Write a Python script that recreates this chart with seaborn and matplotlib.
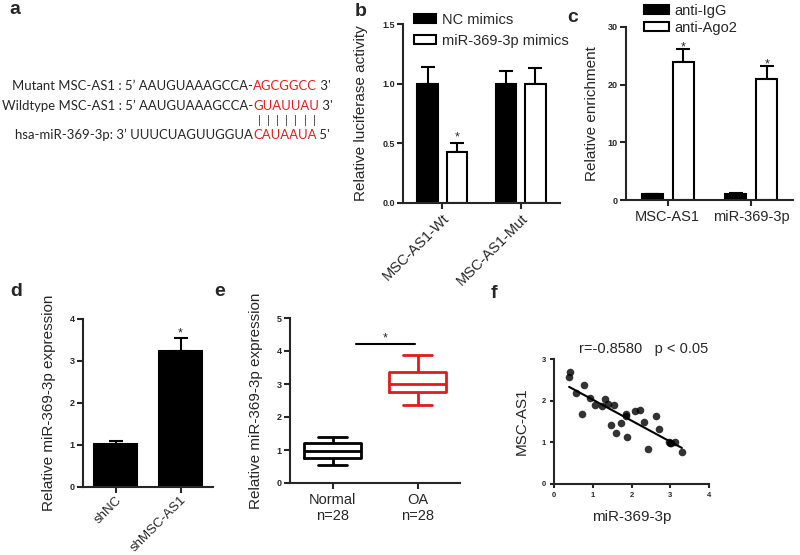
import numpy as np
import pandas as pd
import matplotlib
matplotlib.use("Agg")
import matplotlib.pyplot as plt
import seaborn as sns

# ---------------- data ----------------
b_groups = ["MSC-AS1-Wt", "MSC-AS1-Mut"]
b_hues = ["NC mimics", "miR-369-3p mimics"]
b_nc = [1.0, 1.0]
b_nc_err = [0.14, 0.11]
b_mir = [0.43, 1.0]
b_mir_err = [0.07, 0.13]

c_groups = ["MSC-AS1", "miR-369-3p"]
c_hues = ["anti-IgG", "anti-Ago2"]
c_igg = [1.0, 1.1]
c_igg_err = [0.08, 0.1]
c_ago = [24.0, 21.0]
c_ago_err = [2.2, 2.3]

d_groups = ["shNC", "shMSC-AS1"]
d_vals = [1.02, 3.25]
d_err = [0.08, 0.30]

e_groups = ["Normal\nn=28", "OA\nn=28"]
e_normal = [0.55, 0.75, 0.97, 1.20, 1.40]   # min, Q1, median, Q3, max
e_oa = [2.35, 2.75, 3.00, 3.37, 3.87]

f_mir = [0.39, 0.42, 0.58, 0.71, 0.78, 0.92, 1.05, 1.24, 1.31, 1.39, 1.46, 1.55,
         1.61, 1.74, 1.86, 1.87, 1.89, 2.10, 2.22, 2.33, 2.43, 2.64, 2.70, 2.96,
         3.00, 3.03, 3.11, 3.30]
f_msc = [2.57, 2.69, 2.18, 1.67, 2.37, 2.06, 1.90, 1.88, 2.04, 1.92, 1.42, 1.90,
         1.22, 1.46, 1.68, 1.63, 1.13, 1.75, 1.78, 1.50, 0.84, 1.63, 1.33, 1.00,
         0.99, 0.99, 1.01, 0.76]

a_rows = ["Mutant MSC-AS1 : 5\u2019 AAUGUAAAGCCA-",
          "Wildtype MSC-AS1 : 5\u2019 AAUGUAAAGCCA-",
          "hsa-miR-369-3p: 3\u2019 UUUCUAGUUGGUA"]
a_red = ["AGCGGCC", "GUAUUAU", "CAUAAUA"]
a_end = [" 3'", " 3'", " 5'"]

# ---------------- style ----------------
sns.set_theme(style="ticks")
plt.rcParams["font.family"] = ["Liberation Sans", "DejaVu Sans"]
plt.rcParams["axes.linewidth"] = 1.5
plt.rcParams["xtick.major.width"] = 1.5
plt.rcParams["ytick.major.width"] = 1.5
plt.rcParams["xtick.major.size"] = 4
plt.rcParams["ytick.major.size"] = 4
plt.rcParams["xtick.direction"] = "out"
plt.rcParams["ytick.direction"] = "out"

W, H = 800, 555
fig = plt.figure(figsize=(8, 5.55), dpi=100)
fig.patch.set_facecolor("white")
renderer = fig.canvas.get_renderer()


def add_ax(l, t, r, b):
    return fig.add_axes([l / W, 1 - b / H, (r - l) / W, (b - t) / H])


def fxy(x, y):
    return x / W, 1 - y / H


LAB = 11
TICKNUM = 6.5
CAT = 10.5


def style_ax(ax, ylabel, pad=7):
    sns.despine(ax=ax)
    ax.set_ylabel(ylabel, fontsize=LAB, labelpad=pad)
    ax.set_xlabel("")
    for t in ax.get_yticklabels():
        t.set_fontsize(TICKNUM)
        t.set_fontweight("bold")
    ax.tick_params(axis="y", pad=2, length=4)
    ax.tick_params(axis="x", length=4)


def add_errbars(ax, container, errs):
    xs = [p.get_x() + p.get_width() / 2 for p in container]
    ys = [p.get_height() for p in container]
    ax.errorbar(xs, ys, yerr=[np.zeros(len(errs)), errs], fmt="none",
                ecolor="black", elinewidth=1.5, capsize=5, capthick=1.5, zorder=1)
    return xs, ys


def star(ax, x, y):
    ax.text(x, y, "*", ha="center", va="baseline", fontsize=9)


# ---------------- panel a ----------------
afam = ["Lato", "DejaVu Sans"]
seq_x = 253


def text_w(s, size):
    t = fig.text(0, 0, s, fontsize=size, family=afam)
    w = t.get_window_extent(renderer).width
    t.remove()
    return w


fa = 10 * 251.0 / text_w(a_rows[1], 10)
row_y = [86, 106, 135]
for y, left, red, right in zip(row_y, a_rows, a_red, a_end):
    fig.text(*fxy(seq_x, y), left, ha="right", va="center", fontsize=fa, family=afam)
    tr = fig.text(*fxy(seq_x, y), red, ha="left", va="center", fontsize=fa, family=afam,
                  color="#e0201f")
    wr = tr.get_window_extent(renderer).width
    fig.text(*fxy(seq_x + wr, y), right, ha="left", va="center", fontsize=fa, family=afam)
for i in range(7):
    fig.text(*fxy(seq_x + 2 + (i + 0.5) * wr / 7, 120.5), "|", ha="center", va="center",
             fontsize=fa * 0.8, family=afam)

# ---------------- panel b ----------------
axb = add_ax(403, 24, 560, 203)
dfb = pd.DataFrame({"group": b_groups * 2,
                    "treat": [b_hues[0]] * 2 + [b_hues[1]] * 2,
                    "value": b_nc + b_mir})
sns.barplot(data=dfb, x="group", y="value", hue="treat", hue_order=b_hues,
            palette=["black", "white"], edgecolor="black", linewidth=1.5,
            width=0.75, gap=0.29, errorbar=None, ax=axb, zorder=2)
add_errbars(axb, axb.containers[0], b_nc_err)
xs, ys = add_errbars(axb, axb.containers[1], b_mir_err)
star(axb, xs[0], 0.525)
axb.set_ylim(0, 1.5)
axb.set_xlim(-0.5, 1.5)
axb.set_yticks([0, 0.5, 1.0, 1.5])
axb.set_yticklabels(["0.0", "0.5", "1.0", "1.5"])
style_ax(axb, "Relative luciferase activity", pad=10)
axb.set_xticks([0, 1])
axb.set_xticklabels(b_groups, rotation=45, ha="right", va="top",
                    rotation_mode="anchor", fontsize=CAT)
axb.tick_params(axis="x", pad=2)
axb.legend(loc="upper left", bbox_to_anchor=fxy(414, 13), bbox_transform=fig.transFigure,
           frameon=False, fontsize=10.5, handlelength=1.5, handleheight=0.6,
           labelspacing=0.45, borderpad=0, borderaxespad=0, handletextpad=0.4)

# ---------------- panel c ----------------
axc = add_ax(626, 27, 793, 200)
dfc = pd.DataFrame({"group": c_groups * 2,
                    "ab": [c_hues[0]] * 2 + [c_hues[1]] * 2,
                    "value": c_igg + c_ago})
sns.barplot(data=dfc, x="group", y="value", hue="ab", hue_order=c_hues,
            palette=["black", "white"], edgecolor="black", linewidth=1.5,
            width=0.74, gap=0.33, errorbar=None, ax=axc, zorder=2)
add_errbars(axc, axc.containers[0], c_igg_err)
xs, ys = add_errbars(axc, axc.containers[1], c_ago_err)
star(axc, xs[0], 25.9)
star(axc, xs[1], 23.0)
axc.set_ylim(0, 30)
axc.set_xlim(-0.5, 1.5)
axc.set_yticks([0, 10, 20, 30])
style_ax(axc, "Relative enrichment", pad=6)
axc.set_xticks([0, 1])
axc.set_xticklabels(c_groups, fontsize=CAT)
axc.legend(loc="upper left", bbox_to_anchor=fxy(644, 4), bbox_transform=fig.transFigure,
           frameon=False, fontsize=10.5, handlelength=1.7, handleheight=0.6,
           labelspacing=0.2, borderpad=0, borderaxespad=0, handletextpad=0.4)

# ---------------- panel d ----------------
axd = add_ax(83, 319, 213, 487)
dfd = pd.DataFrame({"group": d_groups, "value": d_vals})
sns.barplot(data=dfd, x="group", y="value", color="black", edgecolor="black",
            linewidth=1.5, width=0.66, errorbar=None, ax=axd, zorder=2)
xs, ys = add_errbars(axd, axd.containers[0], d_err)
star(axd, xs[1], 3.59)
axd.set_ylim(0, 4)
axd.set_xlim(-0.5, 1.5)
axd.set_yticks([0, 1, 2, 3, 4])
style_ax(axd, "Relative miR-369-3p expression", pad=10)
axd.set_xticks([0, 1])
axd.set_xticklabels(d_groups, rotation=45, ha="right", va="top",
                    rotation_mode="anchor", fontsize=9.5)
axd.tick_params(axis="x", pad=1)

# ---------------- panel e ----------------
axe = add_ax(290, 318, 460, 483)
dfe = pd.DataFrame({"group": [e_groups[0]] * len(e_normal) + [e_groups[1]] * len(e_oa),
                    "value": e_normal + e_oa})
sns.boxplot(data=dfe, x="group", y="value", hue="group", palette=["black", "#e3191c"],
            fill=False, whis=(0, 100), width=0.68, linewidth=2, ax=axe, legend=False)
axe.set_ylim(0, 5)
axe.set_xlim(-0.5, 1.5)
axe.set_yticks([0, 1, 2, 3, 4, 5])
style_ax(axe, "Relative miR-369-3p expression", pad=10)
axe.set_xticks([0, 1])
axe.set_xticklabels(e_groups, fontsize=CAT, linespacing=1.1)
axe.plot([0.28, 0.97], [4.22, 4.22], color="black", lw=1.5)
star(axe, 0.625, 4.3)

# ---------------- panel f ----------------
axf = add_ax(554, 359, 709, 484)
sns.regplot(x=f_mir, y=f_msc, ci=None, truncate=True, ax=axf,
            scatter_kws=dict(s=30, color="black", linewidths=0),
            line_kws=dict(color="black", lw=1.5))
axf.set_xlim(0, 4)
axf.set_ylim(0, 3)
axf.set_xticks([0, 1, 2, 3, 4])
axf.set_yticks([0, 1, 2, 3])
sns.despine(ax=axf)
axf.set_xlabel("miR-369-3p", fontsize=LAB, labelpad=8)
axf.set_ylabel("MSC-AS1", fontsize=LAB, labelpad=9)
for t in axf.get_xticklabels() + axf.get_yticklabels():
    t.set_fontsize(5.5)
    t.set_fontweight("bold")
axf.tick_params(length=3, pad=3)
fig.text(*fxy(644, 349), "r=-0.8580   p < 0.05", ha="center", va="center", fontsize=10.5)

# ---------------- panel letters ----------------
for lx, ly, s in [(9, 9, "a"), (355, 12, "b"), (567, 17, "c"),
                  (10, 292, "d"), (214, 292, "e"), (491, 293, "f")]:
    fig.text(*fxy(lx, ly), s, ha="left", va="center", fontsize=14, fontweight="bold")

fig.savefig("out.png", dpi=100, facecolor="white")
